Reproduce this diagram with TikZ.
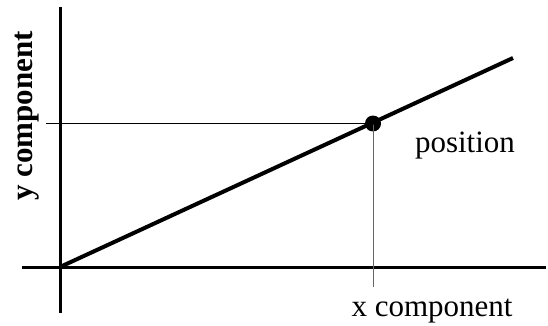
\documentclass[tikz,border=0pt]{standalone}
\usepackage{fontspec}
\setmainfont{Liberation Serif}
\begin{document}
\begin{tikzpicture}[x=1pt,y=-1pt,
  axis/.style={line width=3pt},
  vec/.style={line width=4pt},
  guide/.style={line width=1pt},
  lbl/.style={inner sep=0pt,anchor=base,font=\fontsize{31}{36}\selectfont}]
\useasboundingbox (0,0) rectangle (548,326);
\coordinate (o) at (60,267);
\coordinate (ytop) at (60,7);
\coordinate (ybot) at (60,313);
\coordinate (xl) at (22,267);
\coordinate (xr) at (546,267);
\coordinate (tip) at (513,58);
\coordinate (hl) at (46,123.5);
\coordinate (vb) at (373,287);
\draw[axis] (ybot) -- (ytop);
\draw[axis] (xl) -- (xr);
\node[circle,fill=black,inner sep=0pt,minimum size=16pt] (p) at (373,123.5) {};
\draw[guide] (hl) -- (p.center);
\draw[guide,black!60] (p.center) -- (vb);
\draw[vec] (o) -- (tip);
\node[lbl] (pos) at (465,152) {position};
\node[lbl] (xc) at (432,316) {x component};
\node[lbl,font=\fontsize{31}{36}\selectfont\bfseries,rotate=90] (yc) at (32,116) {y component};
\end{tikzpicture}
\end{document}
